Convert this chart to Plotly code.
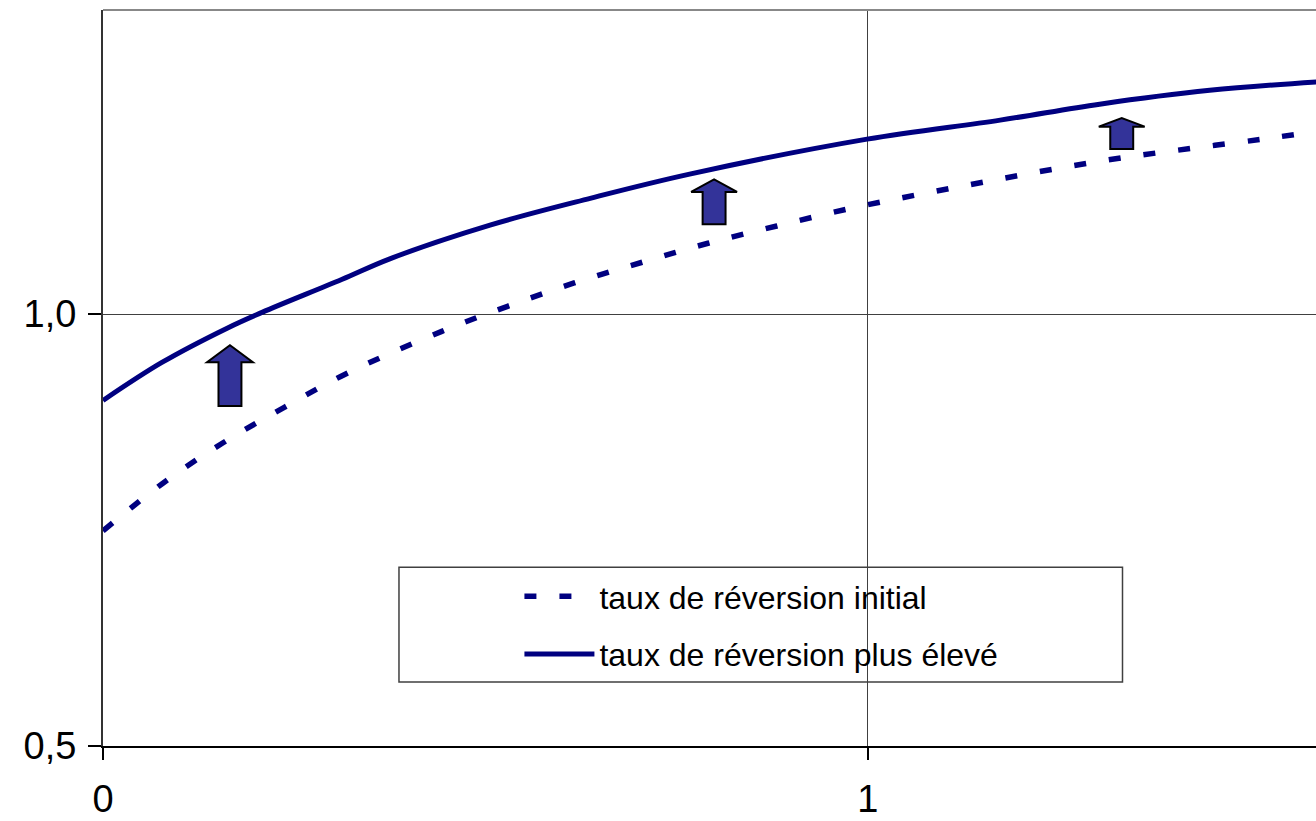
import plotly.graph_objects as go

# courbe initiale (pointillés) et courbe avec taux de réversion plus élevé
x_initial = [0, 0.081, 0.157, 0.237, 0.318, 0.443, 0.529, 0.616, 0.705, 0.791,
             0.881, 0.973, 1.064, 1.153, 1.244, 1.333, 1.425, 1.516, 1.59]
y_initial = [0.749, 0.806, 0.851, 0.892, 0.931, 0.980, 1.009, 1.036, 1.060, 1.082,
             1.102, 1.1215, 1.138, 1.153, 1.168, 1.181, 1.192, 1.2025, 1.212]

x_eleve = [0, 0.077, 0.163, 0.208, 0.312, 0.375, 0.506, 0.637, 0.767, 0.999,
           1.173, 1.303, 1.447, 1.59]
y_eleve = [0.900, 0.944, 0.984, 1.002, 1.040, 1.064, 1.103, 1.134, 1.162, 1.2025,
           1.2245, 1.243, 1.259, 1.269]

names = ["taux de réversion initial", "taux de réversion plus élevé"]

# flèches : position x, base, pointe
arrow_x = [0.166, 0.799, 1.332]
arrow_base = [0.8935, 1.104, 1.191]
arrow_tip = [0.964, 1.156, 1.227]

x_ticks = [0, 1]
y_ticks = [0.5, 1.0]

NAVY = "#000080"
FONT = "Liberation Sans, Arial, sans-serif"

fig = go.Figure()
fig.add_trace(go.Scatter(x=x_initial, y=y_initial, mode="lines", name=names[0],
                         legendgroup="a",
                         line=dict(color=NAVY, width=5.5, dash="12px,23px", shape="spline")))
fig.add_trace(go.Scatter(x=x_eleve, y=y_eleve, mode="lines", name=names[1],
                         legendgroup="b",
                         line=dict(color=NAVY, width=5, shape="spline")))


def arrow_path(xc, base, tip, hw=0.030, sw=0.015):
    neck = tip - 0.28 * (tip - base)
    pts = [(xc - sw, base), (xc - sw, neck), (xc - hw, neck), (xc, tip),
           (xc + hw, neck), (xc + sw, neck), (xc + sw, base)]
    return "M " + " L ".join(f"{px},{py}" for px, py in pts) + " Z"


for xc, b, t in zip(arrow_x, arrow_base, arrow_tip):
    fig.add_shape(type="path", path=arrow_path(xc, b, t), xref="x", yref="y",
                  fillcolor="#333399", line=dict(color="black", width=2))

# cadre de la légende
fig.add_shape(type="rect", xref="x", yref="y", x0=0.387, x1=1.333, y0=0.574, y1=0.707,
              line=dict(color="#404040", width=1.5), fillcolor="white", layer="below")

# bord supérieur
fig.add_shape(type="line", xref="paper", yref="paper", x0=0, x1=1, y0=1, y1=1,
              line=dict(color="#888888", width=2))

fig.update_layout(
    width=1316, height=821,
    margin=dict(l=103, r=0, t=10, b=75),
    paper_bgcolor="white", plot_bgcolor="white",
    separators=", ",
    font=dict(family=FONT, color="black", size=38),
    showlegend=True,
    legend=dict(x=0.3433, y=0.2405, xanchor="left", yanchor="top",
                bgcolor="rgba(0,0,0,0)", borderwidth=0,
                font=dict(size=32, family=FONT), itemwidth=70,
                tracegroupgap=13),
    xaxis=dict(range=[0, 1.586], tickvals=x_ticks, ticktext=["0", "1"],
               showgrid=True, gridcolor="#404040", gridwidth=1,
               showline=True, linecolor="black", linewidth=2,
               ticks="outside", ticklen=12, tickcolor="black", tickwidth=1.5,
               zeroline=False, ticklabelstandoff=6, automargin=False),
    yaxis=dict(range=[0.5, 1.352], tickvals=y_ticks, tickformat=".1f",
               showgrid=True, gridcolor="#404040", gridwidth=1,
               showline=True, linecolor="#333333", linewidth=2,
               ticks="outside", ticklen=13, tickcolor="black", tickwidth=1.5,
               zeroline=False, ticklabelstandoff=4, automargin=False),
)

fig.write_html("out.html", config={"displayModeBar": False},
               post_script="document.body.style.margin = '0px';")
